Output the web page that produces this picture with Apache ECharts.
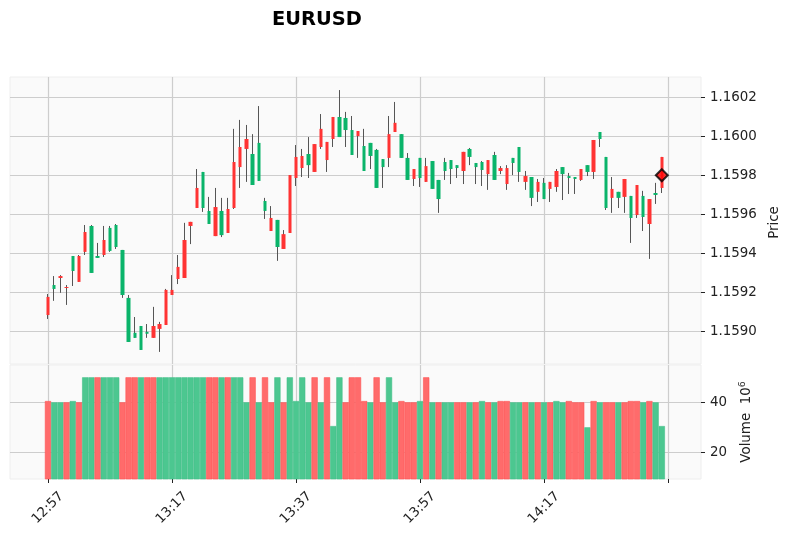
<!DOCTYPE html>
<html>
<head>
<meta charset="utf-8">
<style>
  html, body { margin: 0; background: #fff; }
  #chart { width: 788px; height: 537px; }
</style>
<script src="https://cdn.jsdelivr.net/npm/echarts@6/dist/echarts.min.js"></script>
</head>
<body>
<div id="chart"></div>
<script>
// one-minute bars, index 0 is 12:57
const opens = [
  1.159083, 1.159237, 1.159273, 1.159222, 1.159386, 1.159253, 1.159407, 1.159540, 1.159386, 1.159391,
  1.159530, 1.159545, 1.159417, 1.159171, 1.158992, 1.159027, 1.158997, 1.158966, 1.159012, 1.159032,
  1.159186, 1.159268, 1.159273, 1.159540, 1.159632, 1.159817, 1.159617, 1.159488, 1.159617, 1.159504,
  1.159632, 1.159842, 1.159935, 1.159909, 1.159966, 1.159668, 1.159514, 1.159571, 1.159422, 1.159504,
  1.159786, 1.159837, 1.159909, 1.159817, 1.159945, 1.159878, 1.159986, 1.160099, 1.160094, 1.160032,
  1.160001, 1.159950, 1.159966, 1.159930, 1.159883, 1.159889, 1.160022, 1.160011, 1.159889, 1.159781,
  1.159889, 1.159766, 1.159873, 1.159776, 1.159868, 1.159878, 1.159852, 1.159822, 1.159935, 1.159863,
  1.159868, 1.159806, 1.159904, 1.159822, 1.159755, 1.159889, 1.159945, 1.159766, 1.159791, 1.159715,
  1.159761, 1.159730, 1.159740, 1.159842, 1.159796, 1.159791, 1.159776, 1.159852, 1.159817, 1.160022,
  1.159894, 1.159684, 1.159715, 1.159689, 1.159694, 1.159596, 1.159694, 1.159550, 1.159709, 1.159735
];
const closes = [
  1.159176, 1.159217, 1.159283, 1.159227, 1.159309, 1.159386, 1.159509, 1.159299, 1.159376, 1.159468,
  1.159412, 1.159432, 1.159186, 1.158945, 1.158966, 1.158904, 1.158987, 1.159027, 1.159037, 1.159212,
  1.159212, 1.159330, 1.159468, 1.159561, 1.159735, 1.159632, 1.159550, 1.159637, 1.159493, 1.159627,
  1.159868, 1.159945, 1.159986, 1.159750, 1.159771, 1.159617, 1.159581, 1.159432, 1.159498, 1.159801,
  1.159894, 1.159899, 1.159852, 1.159960, 1.160038, 1.159971, 1.160099, 1.159996, 1.160032, 1.159904,
  1.160027, 1.159822, 1.159899, 1.159735, 1.159842, 1.160011, 1.160069, 1.159889, 1.159776, 1.159832,
  1.159786, 1.159847, 1.159730, 1.159678, 1.159822, 1.159832, 1.159837, 1.159920, 1.159894, 1.159842,
  1.159827, 1.159878, 1.159776, 1.159837, 1.159837, 1.159863, 1.159817, 1.159796, 1.159684, 1.159766,
  1.159678, 1.159766, 1.159822, 1.159806, 1.159786, 1.159781, 1.159832, 1.159817, 1.159981, 1.159986,
  1.159632, 1.159730, 1.159684, 1.159781, 1.159581, 1.159750, 1.159586, 1.159678, 1.159699, 1.159894
];
const lows = [
  1.159063, 1.159156, 1.159197, 1.159135, 1.159232, 1.159253, 1.159391, 1.159299, 1.159376, 1.159381,
  1.159407, 1.159422, 1.159171, 1.158945, 1.158966, 1.158904, 1.158966, 1.158966, 1.158894, 1.159032,
  1.159186, 1.159242, 1.159273, 1.159447, 1.159632, 1.159612, 1.159550, 1.159488, 1.159483, 1.159504,
  1.159627, 1.159735, 1.159766, 1.159750, 1.159771, 1.159576, 1.159514, 1.159361, 1.159422, 1.159504,
  1.159745, 1.159791, 1.159786, 1.159817, 1.159935, 1.159817, 1.159945, 1.159996, 1.159945, 1.159904,
  1.159889, 1.159822, 1.159832, 1.159735, 1.159735, 1.159842, 1.160022, 1.159889, 1.159776, 1.159745,
  1.159740, 1.159766, 1.159730, 1.159607, 1.159776, 1.159755, 1.159786, 1.159755, 1.159852, 1.159755,
  1.159745, 1.159725, 1.159776, 1.159806, 1.159725, 1.159801, 1.159766, 1.159725, 1.159642, 1.159663,
  1.159678, 1.159663, 1.159715, 1.159673, 1.159704, 1.159704, 1.159771, 1.159796, 1.159781, 1.159945,
  1.159622, 1.159607, 1.159632, 1.159607, 1.159453, 1.159581, 1.159514, 1.159371, 1.159653, 1.159709
];
const highs = [
  1.159191, 1.159283, 1.159288, 1.159237, 1.159386, 1.159391, 1.159545, 1.159545, 1.159453, 1.159540,
  1.159540, 1.159550, 1.159417, 1.159186, 1.159073, 1.159027, 1.159037, 1.159125, 1.159048, 1.159217,
  1.159288, 1.159391, 1.159556, 1.159561, 1.159832, 1.159817, 1.159689, 1.159735, 1.159684, 1.159684,
  1.160038, 1.160084, 1.160058, 1.160011, 1.160155, 1.159684, 1.159642, 1.159571, 1.159519, 1.159801,
  1.159955, 1.159935, 1.159996, 1.159960, 1.160114, 1.159971, 1.160099, 1.160237, 1.160125, 1.160104,
  1.160027, 1.160038, 1.159966, 1.159935, 1.159883, 1.160104, 1.160176, 1.160011, 1.159914, 1.159832,
  1.159889, 1.159889, 1.159873, 1.159776, 1.159889, 1.159878, 1.159852, 1.159920, 1.159940, 1.159863,
  1.159873, 1.159878, 1.159920, 1.159847, 1.159852, 1.159889, 1.159945, 1.159822, 1.159791, 1.159781,
  1.159786, 1.159766, 1.159832, 1.159842, 1.159812, 1.159791, 1.159832, 1.159852, 1.159981, 1.160022,
  1.159894, 1.159791, 1.159715, 1.159781, 1.159694, 1.159750, 1.159720, 1.159678, 1.159761, 1.159894
];
// volume in millions, and which colour the bar has in the picture
const volumes = [
  40.5, 40, 40, 40, 40.5, 40, 50, 50, 50, 50,
  50, 50, 40, 50, 50, 50, 50, 50, 50, 50,
  50, 50, 50, 50, 50, 50, 50, 50, 50, 50,
  50, 50, 40, 50, 40, 50, 40, 50, 40, 50,
  40.5, 50, 40, 50, 40, 50, 30.5, 50, 40, 50,
  50, 40.5, 40, 50, 40, 50, 40, 40.5, 40, 40,
  40.5, 50, 40, 40, 40, 40, 40, 40, 40, 40,
  40.5, 40, 40, 40.5, 40.5, 40, 40, 40, 40, 40,
  40, 40, 40.5, 40, 40.5, 40, 40, 30, 40.5, 40,
  40, 40, 40, 40, 40.5, 40.5, 40, 40.5, 40, 30.5
];
const volumeSides = [
  'r', 'g', 'g', 'r', 'g', 'r', 'g', 'g', 'r', 'g',
  'g', 'g', 'r', 'r', 'r', 'g', 'r', 'r', 'g', 'g',
  'g', 'g', 'g', 'g', 'g', 'g', 'r', 'r', 'g', 'r',
  'g', 'g', 'g', 'r', 'g', 'r', 'r', 'g', 'r', 'g',
  'g', 'g', 'g', 'r', 'g', 'r', 'g', 'g', 'r', 'r',
  'r', 'r', 'g', 'r', 'r', 'g', 'g', 'r', 'r', 'r',
  'g', 'r', 'g', 'r', 'g', 'g', 'r', 'r', 'g', 'r',
  'g', 'r', 'g', 'r', 'r', 'g', 'g', 'r', 'g', 'r',
  'g', 'r', 'g', 'g', 'r', 'r', 'r', 'g', 'r', 'g',
  'r', 'r', 'g', 'r', 'r', 'r', 'g', 'r', 'g', 'g'
];
const timeTicks = [0, 20, 40, 60, 80, 100];
const timeLabelTicks = [0, 20, 40, 60, 80];
const timeLabels = ['12:57', '13:17', '13:37', '13:57', '14:17'];
const priceTicks = [1.159, 1.1592, 1.1594, 1.1596, 1.1598, 1.16, 1.1602];
const volumeTicks = [20, 40];
const lastMarker = [99, 1.1598];

const FONT = 'DejaVu Sans';
const GRID_LINE = { show: true, lineStyle: { color: '#cdcdcd', width: 1.2 } };
const xRange = { min: -6.13, max: 105.32 };

const candleBody = opens.map((o, i) => [i, o, closes[i], Math.min(o, closes[i]), Math.max(o, closes[i])]);
const candleWick = opens.map((o, i) => [i, o, closes[i], lows[i], highs[i]]);
const volumeBars = volumes.map((v, i) => ({
  value: [i, v],
  itemStyle: volumeSides[i] === 'r'
    ? { color: '#ff6b6b', borderColor: '#ff5252' }
    : { color: '#4cc790', borderColor: '#44c08a' }
}));

const chart = echarts.init(document.getElementById('chart'));
chart.setOption({
  animation: false,
  backgroundColor: '#fff',
  textStyle: { fontFamily: FONT },
  title: {
    text: 'EURUSD', left: 267, top: 5,
    textStyle: { fontFamily: FONT, fontSize: 19.4, fontWeight: 'bold', color: '#000' }
  },
  grid: [
    { left: 10, right: 87, top: 77, height: 287, show: true, backgroundColor: '#fafafa', borderColor: '#eeeeee', borderWidth: 1, outerBoundsMode: 'none' },
    { left: 10, right: 87, top: 365, height: 114, show: true, backgroundColor: '#fafafa', borderColor: '#eeeeee', borderWidth: 1, outerBoundsMode: 'none' }
  ],
  xAxis: [
    {
      type: 'value', gridIndex: 0, ...xRange,
      axisLine: { show: false, onZero: false },
      axisTick: { show: false, customValues: timeTicks },
      axisLabel: { show: false, customValues: timeTicks },
      splitLine: GRID_LINE
    },
    {
      type: 'value', gridIndex: 1, ...xRange,
      axisLine: { show: false, onZero: false },
      axisTick: { show: true, length: 4, customValues: timeTicks, lineStyle: { color: '#222', width: 1 } },
      axisLabel: {
        customValues: timeLabelTicks, rotate: 45, margin: 29, align: 'center', verticalAlign: 'middle',
        fontFamily: FONT, fontSize: 13.4, color: '#222',
        formatter: v => timeLabels[timeLabelTicks.indexOf(v)]
      },
      splitLine: GRID_LINE
    }
  ],
  yAxis: [
    {
      type: 'value', gridIndex: 0, position: 'right', scale: true, min: 1.158832, max: 1.160304,
      name: 'Price', nameLocation: 'middle', nameGap: 63, nameRotate: 90,
      nameTextStyle: { fontFamily: FONT, fontSize: 13.4, color: '#222', padding: [0, 4, 0, 0] },
      axisLine: { show: false, onZero: false },
      axisTick: { show: true, length: 4, customValues: priceTicks, lineStyle: { color: '#222', width: 1 } },
      axisLabel: {
        customValues: priceTicks, margin: 9, fontFamily: FONT, fontSize: 13.4, color: '#222',
        padding: [4, 0, 0, 0],
        formatter: v => v.toFixed(4)
      },
      splitLine: GRID_LINE
    },
    {
      type: 'value', gridIndex: 1, position: 'right', min: 9.32, max: 54.92,
      name: '{v|Volume  10}{s|6}', nameLocation: 'middle', nameGap: 31, nameRotate: 90,
      nameTextStyle: {
        fontFamily: FONT, fontSize: 13.4, color: '#222',
        rich: {
          v: { fontFamily: FONT, fontSize: 13.4, color: '#222', lineHeight: 18 },
          s: { fontFamily: FONT, fontSize: 9.4, color: '#222', lineHeight: 18, verticalAlign: 'top' }
        }
      },
      axisLine: { show: false, onZero: false },
      axisTick: { show: true, length: 4, customValues: volumeTicks, lineStyle: { color: '#222', width: 1 } },
      axisLabel: {
        customValues: volumeTicks, margin: 9, fontFamily: FONT, fontSize: 13.4, color: '#222',
        padding: [4, 0, 0, 0]
      },
      splitLine: GRID_LINE
    }
  ],
  series: [
    {
      // wicks: a thin candle all in grey, bodies go over it
      type: 'candlestick', xAxisIndex: 0, yAxisIndex: 0, barWidth: 1, z: 2,
      data: candleWick,
      itemStyle: { color: '#555', color0: '#555', borderColor: '#555', borderColor0: '#555', borderWidth: 1 }
    },
    {
      type: 'candlestick', xAxisIndex: 0, yAxisIndex: 0, barWidth: 4, z: 3,
      data: candleBody,
      itemStyle: { color: '#ff3333', color0: '#0ab46a', borderColor: '#ff3333', borderColor0: '#0ab46a', borderWidth: 0 }
    },
    {
      type: 'scatter', xAxisIndex: 0, yAxisIndex: 0, z: 5,
      symbol: 'diamond', symbolSize: 12,
      data: [lastMarker],
      itemStyle: { color: '#ff0000', borderColor: '#000', borderWidth: 2 }
    },
    {
      type: 'bar', xAxisIndex: 1, yAxisIndex: 1, barWidth: 6.2,
      data: volumeBars,
      itemStyle: { borderWidth: 0.6 }
    }
  ]
});
</script>
</body>
</html>
